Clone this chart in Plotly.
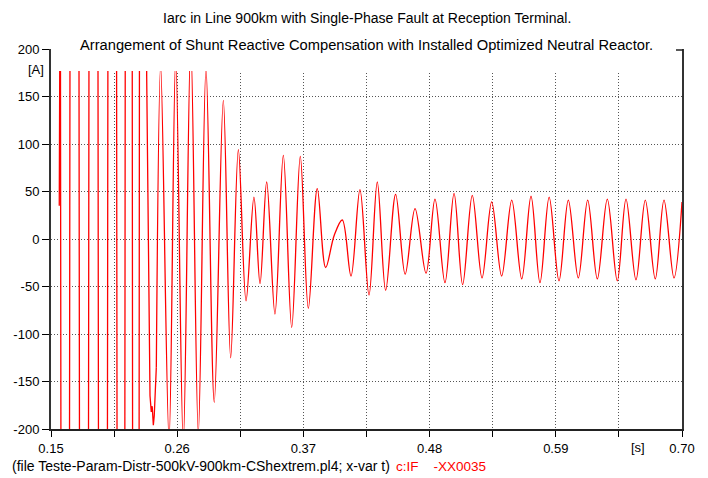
import plotly.graph_objects as go

# ---- data ----
# Fault-current stage (values beyond the drawn range are clipped in the plot)
t_fault = [0.1572, 0.1581, 0.1623, 0.1704, 0.1788, 0.1870, 0.1953, 0.2035,
           0.2112, 0.2179, 0.2240, 0.2299, 0.2334, 0.2363, 0.2374, 0.2382,
           0.2392, 0.2400, 0.2418]
i_fault = [35, 350, -4000, 4000, -4000, 4000, -4000, 4000,
           -4000, 4000, -4000, 4000, 172, -165, -182, -176,
           -196, -186, -135]

# Secondary arc / residual oscillation stage
t_arc = [0.2418, 0.2456, 0.2529, 0.2587, 0.2653, 0.2718, 0.2784, 0.2851,
         0.2923, 0.3002, 0.3066, 0.3133, 0.3200, 0.3269, 0.3322, 0.3380,
         0.3452, 0.3525, 0.3598, 0.3673, 0.3743, 0.3821, 0.3894, 0.3969,
         0.4039, 0.4115, 0.4193, 0.4272, 0.4344, 0.4417, 0.4504, 0.4587,
         0.4673, 0.4769, 0.4847, 0.4934, 0.5013, 0.5088, 0.5172, 0.5257,
         0.5341, 0.5428, 0.5516, 0.5603, 0.5684, 0.5762, 0.5842, 0.5928,
         0.6009, 0.6096, 0.6178, 0.6262, 0.6349, 0.6436, 0.6512, 0.6599,
         0.6680, 0.6767, 0.6843, 0.6930, 0.7000]
i_arc = [-135, 183, -212, 192, -215, 208, -205, 180,
         -172, 146, -125, 94, -65, 44, -47, 60,
         -79, 88, -93, 87, -73, 53, -30, 4,
         20, -39, 52, -59, 60, -54, 47, -37,
         32, -36, 42, -46, 48, -48, 46, -41,
         39, -39, 41, -42, 45, -46, 44, -44,
         41, -41, 41, -42, 42, -44, 42, -43,
         41, -42, 41, -41, 39]

x_tick_vals = [0.15, 0.205, 0.26, 0.315, 0.37, 0.425, 0.48, 0.535, 0.59, 0.645, 0.70]
x_tick_text = ["0.15", "", "0.26", "", "0.37", "", "0.48", "", "0.59", "", "0.70"]
y_tick_vals = [-200, -150, -100, -50, 0, 50, 100, 150, 200]
y_tick_text = ["-200", "-150", "-100", "-50", "0", "50", "100", "150", "200"]

title_1 = "Iarc in Line 900km with Single-Phase Fault at Reception Terminal."
title_2 = "Arrangement of Shunt Reactive Compensation with Installed Optimized Neutral Reactor."
footer_file = "(file Teste-Param-Distr-500kV-900km-CShextrem.pl4; x-var t)"
footer_var = "c:IF\u00a0\u00a0\u00a0\u00a0-XX0035"

FONT = "Liberation Sans, Arial, sans-serif"
RED = "#ff0000"

fig = go.Figure()
fig.add_trace(go.Scatter(x=t_fault, y=i_fault, mode="lines",
                         line=dict(color=RED, width=1.3, shape="linear"),
                         showlegend=False, hoverinfo="skip"))
fig.add_trace(go.Scatter(x=t_arc, y=i_arc, mode="lines",
                         line=dict(color=RED, width=1.3, shape="spline", smoothing=1),
                         showlegend=False, hoverinfo="skip"))

W, H = 708, 478
L, R, T, B = 51, 26, 49, 49
pw, ph = W - L - R, H - T - B

def px(x):
    return (x - L) / pw

def py(y):
    return (H - B - y) / ph

fig.update_layout(
    width=W, height=H,
    margin=dict(l=L, r=R, t=T, b=B, pad=0, autoexpand=False),
    paper_bgcolor="white", plot_bgcolor="white",
    font=dict(family=FONT, size=13, color="black"),
    xaxis=dict(range=[0.15, 0.70], tickmode="array", tickvals=x_tick_vals,
               ticktext=x_tick_text, ticks="outside", ticklen=6, tickwidth=1,
               tickcolor="black", showline=True, linecolor="#222", linewidth=2,
               showgrid=True, gridcolor="#555", gridwidth=1, griddash="1px,2px",
               zeroline=False, mirror=False, fixedrange=True, automargin=False,
               tickfont=dict(family=FONT, size=13, color="black")),
    yaxis=dict(range=[-200, 200], tickmode="array", tickvals=y_tick_vals,
               ticktext=y_tick_text, ticks="outside", ticklen=7, tickwidth=1,
               tickcolor="black", showline=True, linecolor="#333", linewidth=2,
               showgrid=True, gridcolor="#555", gridwidth=1, griddash="1px,2px",
               zeroline=False, mirror=True, fixedrange=True, automargin=False,
               tickfont=dict(family=FONT, size=13, color="black")),
)

# The drawing area of the curve stops below the label row at the top
fig.add_shape(type="rect", xref="x", yref="y", x0=0.1506, x1=0.6994,
              y0=176.8, y1=200, fillcolor="white", line=dict(width=0), layer="above")
# small hook at the top of the right border
fig.add_shape(type="line", xref="paper", yref="paper",
              x0=px(676), x1=px(683), y0=py(50), y1=py(50),
              line=dict(color="#222", width=1.5), layer="above")

ann = [
    dict(text=title_1, x=0.5, y=py(18), xanchor="center", yanchor="middle", size=14),
    dict(text=title_2, x=0.5, y=py(45), xanchor="center", yanchor="middle", size=14.7),
    dict(text="[A]", x=px(36), y=py(69), xanchor="center", yanchor="middle", size=13),
    dict(text="[s]", x=px(638), y=py(447), xanchor="center", yanchor="middle", size=13),
    dict(text=footer_file, x=px(10), y=py(466), xanchor="left", yanchor="middle", size=14),
    dict(text=footer_var, x=px(394), y=py(466), xanchor="left", yanchor="middle", size=13.5,
         color=RED),
]
for a in ann:
    size = a.pop("size")
    color = a.pop("color", "black")
    fig.add_annotation(xref="paper", yref="paper", showarrow=False,
                       font=dict(family=FONT, size=size, color=color), **a)

fig.write_html("out.html",
               config={"displayModeBar": False, "staticPlot": True},
               post_script="document.body.style.margin='0px';"
                           "document.body.style.overflow='hidden';")
